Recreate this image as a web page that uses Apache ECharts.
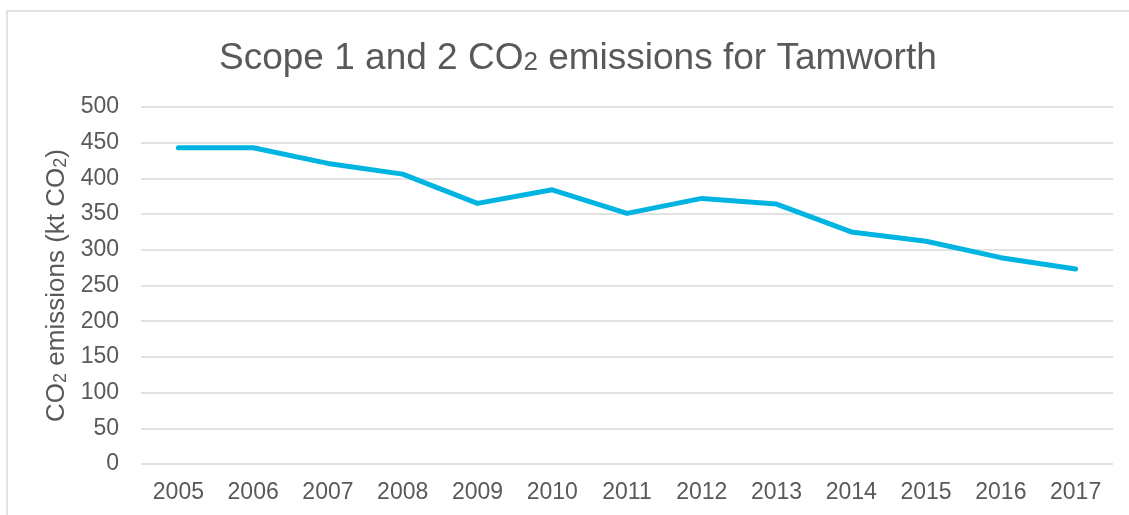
<!DOCTYPE html>
<html>
<head>
<meta charset="utf-8">
<title>Scope 1 and 2 CO2 emissions for Tamworth</title>
<script src="https://cdn.jsdelivr.net/npm/echarts@6/dist/echarts.min.js"></script>
<style>
  html, body { margin: 0; padding: 0; background: #ffffff; }
  #chart { width: 1129px; height: 515px; }
</style>
</head>
<body>
<div id="chart"></div>
<script>
// Annual emissions, kt CO2
const years = ['2005', '2006', '2007', '2008', '2009', '2010', '2011', '2012', '2013', '2014', '2015', '2016', '2017'];
const emissions = [443, 443, 421, 406, 365, 384, 351, 372, 364, 325, 312, 289, 273];
const yTicks = [0, 50, 100, 150, 200, 250, 300, 350, 400, 450, 500];

const textColor = '#595959';
const gridColor = '#d9d9d9';
const fontFamily = '"Liberation Sans", Arial, sans-serif';

const chart = echarts.init(document.getElementById('chart'), null, { renderer: 'canvas' });

chart.setOption({
  animation: false,
  backgroundColor: '#ffffff',
  graphic: [{
    type: 'rect',
    shape: { x: 7, y: 11, width: 1300, height: 700 },
    style: { fill: 'none', stroke: gridColor, lineWidth: 1.5 },
    silent: true
  }],
  title: {
    text: '{t|Scope 1 and 2 CO}{s|2}{t| emissions for Tamworth}',
    left: 214,
    top: 30,
    textStyle: {
      rich: {
        t: { fontFamily, fontSize: 37, fontWeight: 'normal', color: textColor, verticalAlign: 'bottom', lineHeight: 42 },
        s: { fontFamily, fontSize: 26, fontWeight: 'normal', color: textColor, verticalAlign: 'bottom', lineHeight: 42, padding: [0, 0, 1, 0] }
      }
    }
  },
  grid: { left: 141, right: 16, top: 107, bottom: 51, containLabel: false },
  xAxis: {
    type: 'category',
    data: years,
    boundaryGap: true,
    axisLine: { show: false },
    axisTick: { show: false },
    axisLabel: { color: textColor, fontFamily, fontSize: 23, margin: 17 }
  },
  yAxis: {
    type: 'value',
    min: yTicks[0],
    max: yTicks[yTicks.length - 1],
    interval: yTicks[1] - yTicks[0],
    name: '{t|CO}{s|2}{t| emissions (kt CO}{s|2}{t|)}',
    nameLocation: 'middle',
    nameGap: 69,
    nameRotate: 90,
    nameTextStyle: {
      rich: {
        t: { fontFamily, fontSize: 26, color: textColor, verticalAlign: 'bottom', lineHeight: 30 },
        s: { fontFamily, fontSize: 18, color: textColor, verticalAlign: 'bottom', lineHeight: 30 }
      }
    },
    axisLine: { show: false },
    axisTick: { show: false },
    axisLabel: { color: textColor, fontFamily, fontSize: 23, margin: 22 },
    splitLine: { lineStyle: { color: gridColor, width: 1.5 } }
  },
  series: [{
    type: 'line',
    data: emissions,
    symbol: 'none',
    lineStyle: { color: '#00b4e2', width: 5, cap: 'round', join: 'round' },
    z: 3
  }]
});
</script>
</body>
</html>
